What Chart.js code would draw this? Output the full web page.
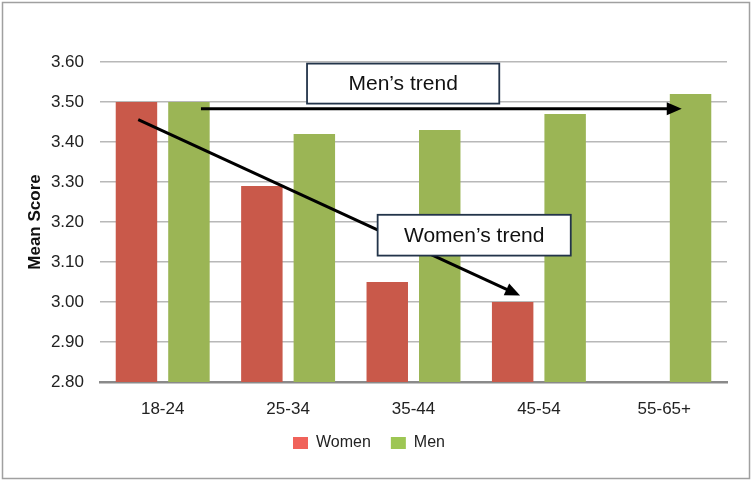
<!DOCTYPE html>
<html>
<head>
<meta charset="utf-8">
<script src="https://cdn.jsdelivr.net/npm/chart.js@4.4.1/dist/chart.umd.min.js"></script>
<style>
  html, body { margin: 0; padding: 0; background: #fff; }
  #wrap { width: 752px; height: 481px; position: relative; }
</style>
</head>
<body>
<div id="wrap"><canvas id="c" width="752" height="481"></canvas></div>
<script>
// ---- Data ----
const categories = ['18-24', '25-34', '35-44', '45-54', '55-65+'];
const womenScores = [3.50, 3.29, 3.05, 3.00, null];
const menScores = [3.50, 3.42, 3.43, 3.47, 3.52];
const yTicks = [2.80, 2.90, 3.00, 3.10, 3.20, 3.30, 3.40, 3.50, 3.60];
const seriesNames = ['Women', 'Men'];
const trendLabels = ['Men\u2019s trend', 'Women\u2019s trend'];

// Trend annotations in data units (x = category index, y = score)
const menTrendArrow = { x1: 0.305, y1: 3.483, x2: 4.139, y2: 3.483 };
const womenTrendArrow = { x1: -0.195, y1: 3.456, x2: 2.85, y2: 3.016 };
const menTrendBox = { x1: 1.151, y1: 3.596, x2: 2.684, y2: 3.496 };
const womenTrendBox = { x1: 1.714, y1: 3.218, x2: 3.254, y2: 3.116 };

const FONT = "'Liberation Sans', Arial, sans-serif";

const womenColor = '#C9594A';
const menColor = '#9BB555';
const womenLegend = '#F0625A';
const menLegend = '#9DC653';

const framePlugin = {
  id: 'frame',
  beforeDraw(chart) {
    const ctx = chart.ctx;
    ctx.save();
    ctx.fillStyle = '#fff';
    ctx.fillRect(0, 0, chart.width, chart.height);
    ctx.strokeStyle = '#A0A0A0';
    ctx.lineWidth = 1.5;
    ctx.strokeRect(2.5, 2.5, chart.width - 5, chart.height - 5);
    ctx.restore();
  }
};

function catToPx(chart, idx) {
  const xs = chart.scales.x;
  const w = (xs.right - xs.left) / categories.length;
  return xs.getPixelForValue(0) + idx * w;
}

const trendPlugin = {
  id: 'trends',
  afterDatasetsDraw(chart) {
    const ctx = chart.ctx;
    const ys = chart.scales.y;
    const P = (x, y) => [catToPx(chart, x), ys.getPixelForValue(y)];

    function arrow(a) {
      const [x1, y1] = P(a.x1, a.y1);
      const [x2, y2] = P(a.x2, a.y2);
      const ang = Math.atan2(y2 - y1, x2 - x1);
      const hl = 15, hw = 6.5;
      const bx = x2 - hl * Math.cos(ang), by = y2 - hl * Math.sin(ang);
      ctx.save();
      ctx.strokeStyle = '#000';
      ctx.lineWidth = 3;
      ctx.beginPath();
      ctx.moveTo(x1, y1);
      ctx.lineTo(bx + 2 * Math.cos(ang), by + 2 * Math.sin(ang));
      ctx.stroke();
      ctx.fillStyle = '#000';
      ctx.beginPath();
      ctx.moveTo(x2, y2);
      ctx.lineTo(bx + hw * Math.sin(ang), by - hw * Math.cos(ang));
      ctx.lineTo(bx - hw * Math.sin(ang), by + hw * Math.cos(ang));
      ctx.closePath();
      ctx.fill();
      ctx.restore();
    }

    function box(b, text) {
      const [x1, y1] = P(b.x1, b.y1);
      const [x2, y2] = P(b.x2, b.y2);
      ctx.save();
      ctx.fillStyle = '#fff';
      ctx.fillRect(x1, y1, x2 - x1, y2 - y1);
      ctx.strokeStyle = '#23344A';
      ctx.lineWidth = 1.8;
      ctx.strokeRect(x1, y1, x2 - x1, y2 - y1);
      ctx.fillStyle = '#111';
      ctx.font = '21px ' + FONT;
      ctx.textAlign = 'center';
      ctx.textBaseline = 'middle';
      ctx.fillText(text, (x1 + x2) / 2, (y1 + y2) / 2 + 1);
      ctx.restore();
    }

    arrow(menTrendArrow);
    arrow(womenTrendArrow);
    box(menTrendBox, trendLabels[0]);
    box(womenTrendBox, trendLabels[1]);
  }
};

new Chart(document.getElementById('c'), {
  type: 'bar',
  data: {
    labels: categories,
    datasets: [
      { label: seriesNames[0], data: womenScores, backgroundColor: womenColor, legendColor: womenLegend },
      { label: seriesNames[1], data: menScores, backgroundColor: menColor, legendColor: menLegend }
    ]
  },
  options: {
    responsive: false,
    animation: false,
    devicePixelRatio: 1,
    categoryPercentage: 0.837,
    barPercentage: 0.79,
    layout: { padding: { left: 11, right: 25, top: 62, bottom: 20 } },
    plugins: {
      tooltip: { enabled: false },
      legend: {
        position: 'bottom',
        labels: {
          boxWidth: 15,
          boxHeight: 12,
          padding: 20,
          color: '#222',
          font: { family: FONT, size: 16 },
          generateLabels(chart) {
            return chart.data.datasets.map((ds, i) => ({
              text: ds.label,
              fillStyle: ds.legendColor,
              strokeStyle: ds.legendColor,
              lineWidth: 0,
              fontColor: '#222',
              datasetIndex: i,
              hidden: false
            }));
          }
        }
      }
    },
    scales: {
      x: {
        grid: { display: false, drawTicks: false },
        border: { display: true, color: '#8A8A8A', width: 2.5 },
        ticks: { color: '#222', font: { family: FONT, size: 17 }, padding: 17 },
        afterFit(scale) { scale.height = 33; }
      },
      y: {
        min: 2.8,
        max: 3.6,
        afterBuildTicks(scale) { scale.ticks = yTicks.map(v => ({ value: v })); },
        grid: { color: '#B8B8B8', lineWidth: 1.5, drawTicks: false },
        border: { display: false },
        ticks: {
          color: '#222',
          font: { family: FONT, size: 17 },
          padding: 16,
          callback: (v) => Number(v).toFixed(2)
        },
        title: {
          display: true,
          text: 'Mean Score',
          color: '#111',
          font: { family: FONT, size: 17, weight: 'bold' },
          padding: { top: 14, bottom: 0 }
        },
        afterFit(scale) { scale.width = 89; }
      }
    }
  },
  plugins: [framePlugin, trendPlugin]
});
</script>
</body>
</html>
